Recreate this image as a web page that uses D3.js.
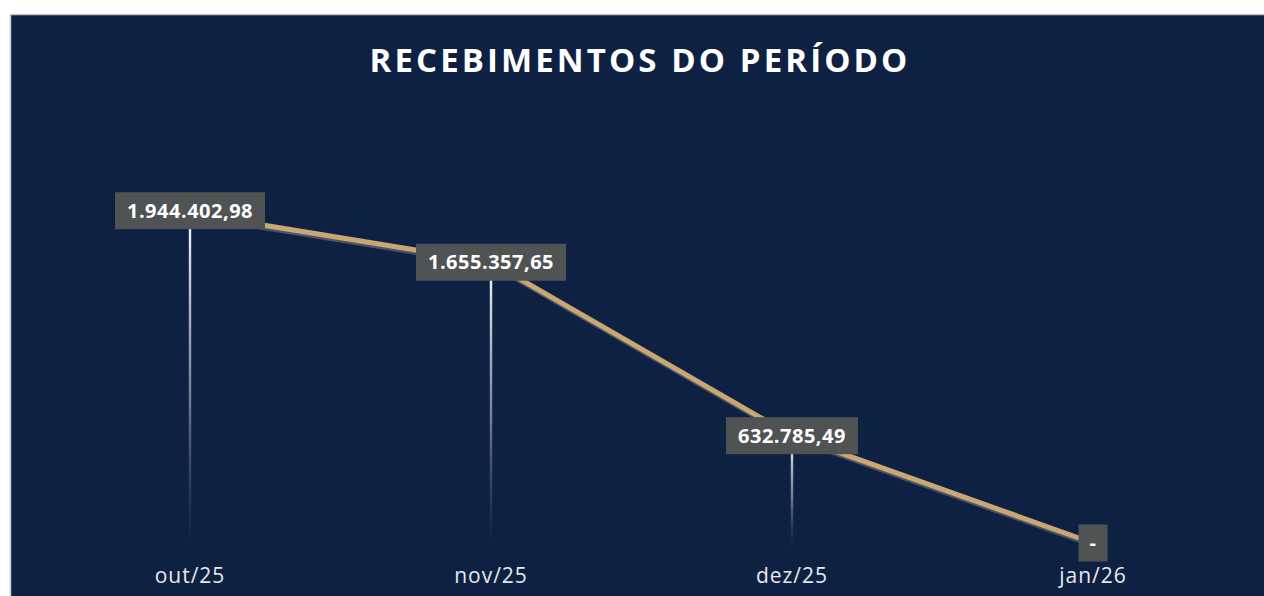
<!DOCTYPE html>
<html lang="pt">
<head>
<meta charset="utf-8">
<script src="https://cdn.jsdelivr.net/npm/d3@7"></script>
<style>
  html, body { margin: 0; padding: 0; background: #ffffff; overflow: hidden; }
  #chart { position: absolute; left: 0; top: 0; }
</style>
</head>
<body>
<div id="chart"></div>
<script>
// Recebimentos do período — linha com rótulos e linhas de queda

const meses   = ["out/25", "nov/25", "dez/25", "jan/26"];
const valores = [1944402.98, 1655357.65, 632785.49, 0];
const rotulos = ["1.944.402,98", "1.655.357,65", "632.785,49", "-"];
const titulo  = "RECEBIMENTOS DO PERÍODO";
const yMax    = 2500000;   // eixo oculto

const W = 1264, H = 596;
const BG = { x: 10, y: 14 };   // área do gráfico (borda cinza)

const svg = d3.select("#chart").append("svg")
  .attr("width", W).attr("height", H);

// fundo azul escuro + borda
svg.append("rect")
  .attr("x", BG.x + 0.5).attr("y", BG.y + 0.5)
  .attr("width", W).attr("height", H)
  .attr("fill", "#0f2143")
  .attr("stroke", "#c9c9c9").attr("stroke-width", 1.5);

// escalas
const x = d3.scalePoint().domain(meses).range([190, 1093]);
const y = d3.scaleLinear().domain([0, yMax]).range([543, 119]);

const dados = meses.map((m, i) => ({ mes: m, v: valores[i], txt: rotulos[i] }));

// título
svg.append("text")
  .attr("x", 640).attr("y", 72)
  .attr("text-anchor", "middle")
  .style("font-family", "'Open Sans', sans-serif")
  .style("font-size", "33px").style("font-weight", "700")
  .style("letter-spacing", "3.1px")
  .attr("fill", "#ffffff")
  .text(titulo);

// gradiente das linhas verticais
const defs = svg.append("defs");
const grad = defs.append("linearGradient")
  .attr("id", "queda").attr("x1", 0).attr("y1", 0).attr("x2", 0).attr("y2", 1);
grad.append("stop").attr("offset", "0%").attr("stop-color", "#ffffff").attr("stop-opacity", 1);
grad.append("stop").attr("offset", "55%").attr("stop-color", "#b9c0d0").attr("stop-opacity", 0.6);
grad.append("stop").attr("offset", "100%").attr("stop-color", "#6a7690").attr("stop-opacity", 0);

// linhas de queda (do ponto até a base)
svg.append("g").selectAll("rect")
  .data(dados.filter(d => d.v > 0))
  .join("rect")
  .attr("x", d => x(d.mes) - 1.2)
  .attr("y", d => y(d.v))
  .attr("width", 2.4)
  .attr("height", d => y(0) + 2 - y(d.v))
  .attr("fill", "url(#queda)");

// linha (sombra + traço)
const linha = d3.line().x(d => x(d.mes)).y(d => y(d.v));
svg.append("path").datum(dados)
  .attr("d", linha)
  .attr("transform", "translate(1.2,2.6)")
  .attr("fill", "none")
  .attr("stroke", "#4b5467").attr("stroke-width", 5);
svg.append("path").datum(dados)
  .attr("d", linha)
  .attr("fill", "none")
  .attr("stroke", "#c9a772").attr("stroke-width", 5);

// rótulos de dados
const gLbl = svg.append("g");
dados.forEach((d, i) => {
  const g = gLbl.append("g");
  const cy = y(d.v) - (i === 0 ? 2.5 : 0);
  const t = g.append("text")
    .attr("x", x(d.mes)).attr("y", cy + 7)
    .attr("text-anchor", "middle")
    .style("font-family", "'Open Sans', sans-serif")
    .style("font-size", "20px").style("font-weight", "700")
    .style("letter-spacing", "0.5px")
    .attr("fill", "#ffffff")
    .text(d.txt);
  const tw = t.node().getComputedTextLength();
  const bw = d.txt === "-" ? 29 : tw + 24;
  g.insert("rect", "text")
    .attr("x", x(d.mes) - bw / 2)
    .attr("y", cy - 18.5)
    .attr("width", bw).attr("height", 37)
    .attr("fill", "#505354");
});

// rótulos do eixo x
svg.append("g").selectAll("text")
  .data(meses)
  .join("text")
  .attr("x", d => x(d)).attr("y", 583)
  .attr("text-anchor", "middle")
  .style("font-family", "'Open Sans', sans-serif")
  .style("font-size", "21px")
  .style("letter-spacing", "1px")
  .attr("fill", "#e6e8ee")
  .text(d => d);
</script>
</body>
</html>
